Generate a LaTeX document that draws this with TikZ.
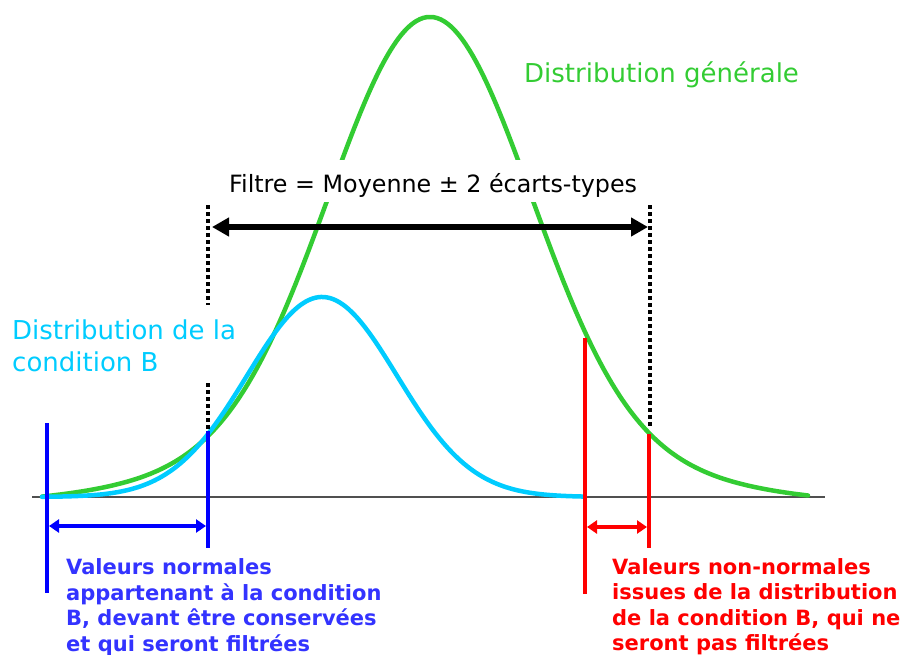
\documentclass[tikz,border=0pt]{standalone}
\usepackage{fontspec}
\setmainfont{DejaVu Sans}
\usetikzlibrary{arrows.meta}
\definecolor{cgreen}{RGB}{51,204,51}
\definecolor{ccyan}{RGB}{0,204,255}
\definecolor{cblue}{RGB}{0,0,255}
\definecolor{cbluetext}{RGB}{51,51,255}
\definecolor{cred}{RGB}{255,0,0}
\definecolor{caxis}{RGB}{80,80,80}
\begin{document}
\begin{tikzpicture}[x=1pt,y=-1pt,
  declare function={
    gd(\t)=430*exp(-0.5*(\t/100)*(\t/100)) + 50*exp(-0.5*(\t/190)*(\t/190))*(1-((\t/390)*(\t/390))^3);
    cd(\t)=200*exp(-0.5*(\t/75)*(\t/75));
  },
  curve/.style={line width=4.5pt, line join=round, line cap=round},
  vline/.style={line width=4.5pt},
  dotline/.style={black, line width=3.5pt, dash pattern=on 3.5pt off 3.5pt},
  smallarrow/.style={line width=3.8pt, {Triangle[length=10pt,width=13pt]}-{Triangle[length=10pt,width=13pt]}},
  bigarrow/.style={black, line width=5.5pt, {Triangle[length=17pt,width=18pt]}-{Triangle[length=17pt,width=18pt]}},
  lbl/.style={anchor=base west, inner sep=0pt, font=\fontsize{21}{25}\selectfont\bfseries},
  bigtext/.style={anchor=base west, inner sep=0pt, font=\fontsize{26}{32}\selectfont},
]
\useasboundingbox (0,0) rectangle (903,654);

% coordinates
\coordinate (ax1) at (32,497);
\coordinate (ax2) at (825,497);
\coordinate (bl1t) at (47,423);
\coordinate (bl1b) at (47,593);
\coordinate (bl2t) at (208,431);
\coordinate (bl2b) at (208,548);
\coordinate (ba1) at (49,526);
\coordinate (ba2) at (206,526);
\coordinate (rl1t) at (585,338);
\coordinate (rl1b) at (585,594);
\coordinate (rl2t) at (649,434);
\coordinate (rl2b) at (649,548);
\coordinate (ra1) at (587,527);
\coordinate (ra2) at (647,527);
\coordinate (dl1) at (208,205);
\coordinate (dl2) at (208,305);
\coordinate (dl3) at (208,383);
\coordinate (dl4) at (208,430);
\coordinate (dr1) at (650,205);
\coordinate (dr2) at (650,428);
\coordinate (ka1) at (212,227);
\coordinate (ka2) at (648,227);

% axis
\draw[caxis, line width=1.8pt] (ax1) -- (ax2);

% curves
\draw[curve, cgreen] plot[domain=42:808, samples=220, smooth] (\x, {497-gd(\x-430)});
\draw[curve, ccyan] plot[domain=42:585, samples=180, smooth] (\x, {497-cd(\x-322)});

% dotted guides
\draw[dotline] (dl1) -- (dl2);
\draw[dotline] (dl3) -- (dl4);
\draw[dotline] (dr1) -- (dr2);

% filter arrow and its label
\draw[bigarrow] (ka1) -- (ka2);
\node[anchor=base west, fill=white, inner xsep=4pt, inner ysep=4pt, text height=28pt, text depth=6pt,
      font=\fontsize{23.8}{28}\selectfont] (filtre) at (225,192) {Filtre = Moyenne ± 2 écarts-types};

% blue markers
\draw[vline, cblue] (bl1t) -- (bl1b);
\draw[vline, cblue] (bl2t) -- (bl2b);
\draw[smallarrow, cblue] (ba1) -- (ba2);

% red markers
\draw[vline, cred] (rl1t) -- (rl1b);
\draw[vline, cred] (rl2t) -- (rl2b);
\draw[smallarrow, cred] (ra1) -- (ra2);

% curve labels
\node[bigtext, text=cgreen] (gen) at (524,82) {Distribution générale};
\node[bigtext, text=ccyan] (condA) at (12,339) {Distribution de la};
\node[bigtext, text=ccyan] (condB) at (12,371) {condition B};

% blue text
\node[lbl, text=cbluetext] (b1) at (66,574) {Valeurs normales};
\node[lbl, text=cbluetext] (b2) at (66,600) {appartenant à la condition};
\node[lbl, text=cbluetext] (b3) at (66,625.5) {B, devant être conservées};
\node[lbl, text=cbluetext] (b4) at (66,651) {et qui seront filtrées};

% red text
\node[lbl, text=cred] (r1) at (612,574) {Valeurs non-normales};
\node[lbl, text=cred] (r2) at (612,599.5) {issues de la distribution};
\node[lbl, text=cred] (r3) at (612,625) {de la condition B, qui ne};
\node[lbl, text=cred] (r4) at (612,650.5) {seront pas filtrées};
\end{tikzpicture}
\end{document}
